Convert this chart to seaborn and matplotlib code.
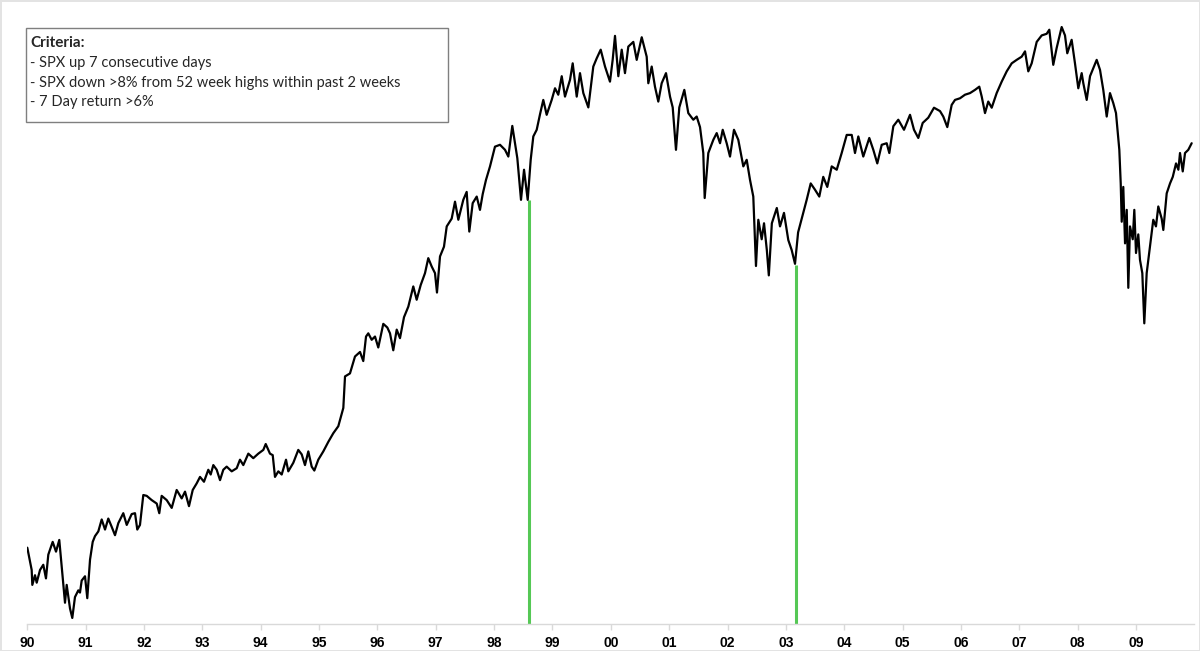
import numpy as np
import pandas as pd
import matplotlib
matplotlib.use('Agg')
import matplotlib.pyplot as plt
import seaborn as sns

# SPX level (decimal year, index level)
dates = [
    1990.000, 1990.075, 1990.086, 1990.132, 1990.161, 1990.218, 1990.274, 1990.320, 1990.360, 1990.435,
    1990.492, 1990.548, 1990.595, 1990.646, 1990.675, 1990.732, 1990.771, 1990.817, 1990.874, 1990.903,
    1990.932, 1990.989, 1991.028, 1991.075, 1991.121, 1991.160, 1991.217, 1991.275, 1991.332, 1991.388,
    1991.446, 1991.503, 1991.560, 1991.645, 1991.704, 1991.789, 1991.846, 1991.885, 1991.931, 1991.988,
    1992.046, 1992.132, 1992.218, 1992.262, 1992.303, 1992.389, 1992.475, 1992.560, 1992.646, 1992.703,
    1992.771, 1992.835, 1992.903, 1992.960, 1993.028, 1993.102, 1993.143, 1993.188, 1993.246, 1993.303,
    1993.359, 1993.417, 1993.503, 1993.589, 1993.645, 1993.702, 1993.788, 1993.873, 1993.959, 1994.045,
    1994.086, 1994.159, 1994.206, 1994.245, 1994.302, 1994.360, 1994.434, 1994.473, 1994.559, 1994.644,
    1994.703, 1994.759, 1994.816, 1994.874, 1994.919, 1994.987, 1995.073, 1995.159, 1995.244, 1995.330,
    1995.416, 1995.445, 1995.530, 1995.616, 1995.702, 1995.758, 1995.805, 1995.844, 1995.902, 1995.959,
    1996.015, 1996.101, 1996.170, 1996.216, 1996.272, 1996.331, 1996.387, 1996.456, 1996.530, 1996.615,
    1996.673, 1996.742, 1996.816, 1996.872, 1996.930, 1996.987, 1997.021, 1997.073, 1997.141, 1997.188,
    1997.273, 1997.330, 1997.387, 1997.472, 1997.530, 1997.575, 1997.633, 1997.702, 1997.758, 1997.805,
    1997.861, 1997.930, 1998.015, 1998.101, 1998.187, 1998.244, 1998.312, 1998.398, 1998.461, 1998.513,
    1998.576, 1998.627, 1998.672, 1998.730, 1998.787, 1998.843, 1998.901, 1998.987, 1999.044, 1999.100,
    1999.159, 1999.215, 1999.301, 1999.347, 1999.416, 1999.472, 1999.529, 1999.615, 1999.700, 1999.758,
    1999.827, 1999.901, 1999.986, 2000.032, 2000.072, 2000.129, 2000.187, 2000.243, 2000.300, 2000.386,
    2000.444, 2000.530, 2000.615, 2000.643, 2000.701, 2000.757, 2000.814, 2000.872, 2000.946, 2001.015,
    2001.061, 2001.117, 2001.174, 2001.260, 2001.328, 2001.414, 2001.472, 2001.529, 2001.585, 2001.609,
    2001.671, 2001.757, 2001.815, 2001.872, 2001.918, 2001.986, 2002.043, 2002.111, 2002.185, 2002.271,
    2002.329, 2002.386, 2002.442, 2002.488, 2002.528, 2002.586, 2002.626, 2002.674, 2002.708, 2002.760,
    2002.845, 2002.900, 2002.968, 2003.042, 2003.100, 2003.157, 2003.210, 2003.272, 2003.357, 2003.426,
    2003.500, 2003.573, 2003.641, 2003.710, 2003.786, 2003.872, 2003.957, 2004.043, 2004.129, 2004.185,
    2004.242, 2004.327, 2004.430, 2004.499, 2004.567, 2004.643, 2004.728, 2004.773, 2004.842, 2004.927,
    2005.025, 2005.128, 2005.196, 2005.270, 2005.345, 2005.441, 2005.539, 2005.642, 2005.698, 2005.767,
    2005.842, 2005.899, 2005.985, 2006.070, 2006.156, 2006.242, 2006.315, 2006.357, 2006.413, 2006.469,
    2006.528, 2006.613, 2006.699, 2006.785, 2006.871, 2006.956, 2007.042, 2007.099, 2007.155, 2007.213,
    2007.299, 2007.385, 2007.470, 2007.515, 2007.583, 2007.641, 2007.727, 2007.784, 2007.823, 2007.898,
    2007.955, 2008.012, 2008.070, 2008.098, 2008.156, 2008.213, 2008.269, 2008.327, 2008.384, 2008.440,
    2008.499, 2008.555, 2008.612, 2008.658, 2008.688, 2008.715, 2008.739, 2008.756, 2008.783, 2008.813,
    2008.842, 2008.869, 2008.898, 2008.945, 2008.972, 2009.001, 2009.040, 2009.069, 2009.109, 2009.143,
    2009.184, 2009.240, 2009.297, 2009.343, 2009.383, 2009.441, 2009.469, 2009.527, 2009.584, 2009.631,
    2009.687, 2009.727, 2009.755, 2009.802, 2009.841, 2009.897, 2009.955,
]
spx_close = [
    360, 338, 324, 333, 326, 338, 343, 330, 353, 366,
    356, 368, 338, 308, 324, 303, 295, 313, 319, 317,
    328, 332, 312, 348, 366, 372, 377, 390, 379, 391,
    382, 373, 386, 397, 384, 396, 397, 379, 384, 418,
    417, 412, 408, 397, 417, 412, 403, 424, 414, 422,
    405, 424, 432, 440, 434, 449, 443, 455, 449, 436,
    449, 453, 447, 451, 462, 455, 470, 464, 470, 475,
    483, 470, 468, 440, 447, 443, 462, 447, 458, 475,
    469, 455, 473, 453, 448, 462, 473, 486, 498, 508,
    535, 585, 590, 619, 627, 611, 655, 661, 649, 655,
    635, 679, 672, 661, 630, 668, 652, 692, 713, 755,
    727, 758, 784, 818, 799, 784, 742, 822, 845, 895,
    915, 960, 912, 965, 987, 882, 956, 974, 938, 981,
    1021, 1061, 1122, 1128, 1112, 1091, 1190, 1086, 965, 1051,
    965, 1081, 1155, 1177, 1230, 1281, 1228, 1281, 1324, 1300,
    1370, 1293, 1356, 1421, 1293, 1382, 1306, 1254, 1408, 1441,
    1477, 1408, 1349, 1435, 1536, 1370, 1477, 1382, 1490, 1510,
    1435, 1530, 1448, 1343, 1408, 1330, 1275, 1343, 1382, 1293,
    1254, 1112, 1254, 1318, 1234, 1211, 1222, 1186, 1102, 970,
    1102, 1144, 1166, 1133, 1177, 1133, 1091, 1177, 1144, 1061,
    1081, 1021, 974, 800, 912, 863, 903, 837, 779, 903,
    943, 895, 930, 861, 837, 805, 880, 915, 965, 1011,
    993, 974, 1030, 1001, 1061, 1051, 1102, 1160, 1160, 1102,
    1155, 1091, 1150, 1112, 1070, 1128, 1133, 1102, 1189, 1211,
    1177, 1228, 1177, 1150, 1200, 1218, 1253, 1241, 1222, 1186,
    1263, 1281, 1287, 1300, 1306, 1318, 1330, 1293, 1234, 1275,
    1253, 1306, 1349, 1389, 1421, 1435, 1448, 1470, 1389, 1421,
    1510, 1538, 1545, 1563, 1415, 1484, 1575, 1538, 1462, 1519,
    1421, 1324, 1382, 1343, 1281, 1370, 1402, 1435, 1395, 1318,
    1222, 1306, 1269, 1234, 1166, 1112, 1011, 907, 1001, 853,
    938, 752, 895, 863, 938, 830, 875, 814, 784, 680,
    784, 845, 912, 895, 947, 915, 886, 983, 1011, 1030,
    1070, 1051, 1102, 1046, 1102, 1112, 1133,
]

# signal days (green lines) and the index level on those days
signal_dates = [1998.593, 2003.169]
signal_levels = [965, 803]

year_ticks = list(range(1990, 2010))
year_labels = ['90', '91', '92', '93', '94', '95', '96', '97', '98', '99',
               '00', '01', '02', '03', '04', '05', '06', '07', '08', '09']

criteria_title = 'Criteria:'
criteria_lines = ['- SPX up 7 consecutive days',
                  '- SPX down >8% from 52 week highs within past 2 weeks',
                  '- 7 Day return >6%']

df = pd.DataFrame({'date': dates, 'spx': spx_close})

sns.set_theme(style='white')
plt.rcParams['font.family'] = ['Liberation Sans', 'DejaVu Sans']

fig = plt.figure(figsize=(12, 6.51), dpi=100)
fig.patch.set_edgecolor('#e3e3e3')
fig.patch.set_linewidth(2)
ax = fig.add_axes([0.02275, 0.0415, 0.9725, 0.951])

y_low, y_high = 290, 1677
ax.vlines(signal_dates, y_low, signal_levels, color='#55c855', linewidth=2.2, zorder=1)
sns.lineplot(data=df, x='date', y='spx', color='black', linewidth=1.6,
             estimator=None, sort=False, ax=ax, zorder=2)

ax.set_yscale('log')
ax.set_ylim(y_low, y_high)
ax.set_xlim(1990, 2010)
ax.set_yticks([])
ax.minorticks_off()
ax.set_xticks(year_ticks)
ax.set_xticklabels(year_labels, fontsize=10, fontweight='bold', color='black')
ax.tick_params(axis='x', length=4, width=1, color='#d9d9d9', direction='out', pad=5, bottom=True)
ax.set_xlabel('')
ax.set_ylabel('')
for side in ['top', 'right', 'left']:
    ax.spines[side].set_visible(False)
ax.spines['bottom'].set_color('#d9d9d9')
ax.spines['bottom'].set_linewidth(1)

# criteria box
box_font = ['Lato', 'DejaVu Sans']
box = plt.Rectangle((25.5 / 1200, 1 - 121.7 / 651), 422 / 1200, 93.4 / 651,
                    transform=fig.transFigure, facecolor='white', edgecolor='#7f7f7f',
                    linewidth=1, zorder=5)
fig.patches.append(box)
fig.text(30 / 1200, 1 - 43 / 651, criteria_title, fontsize=11, fontweight='bold',
         family=box_font, va='center', ha='left', zorder=6)
for i, line in enumerate(criteria_lines):
    fig.text(30 / 1200, 1 - (63 + 19.5 * i) / 651, line, fontsize=10.5,
             family=box_font, va='center', ha='left', zorder=6)

fig.savefig('out.png', dpi=100)
